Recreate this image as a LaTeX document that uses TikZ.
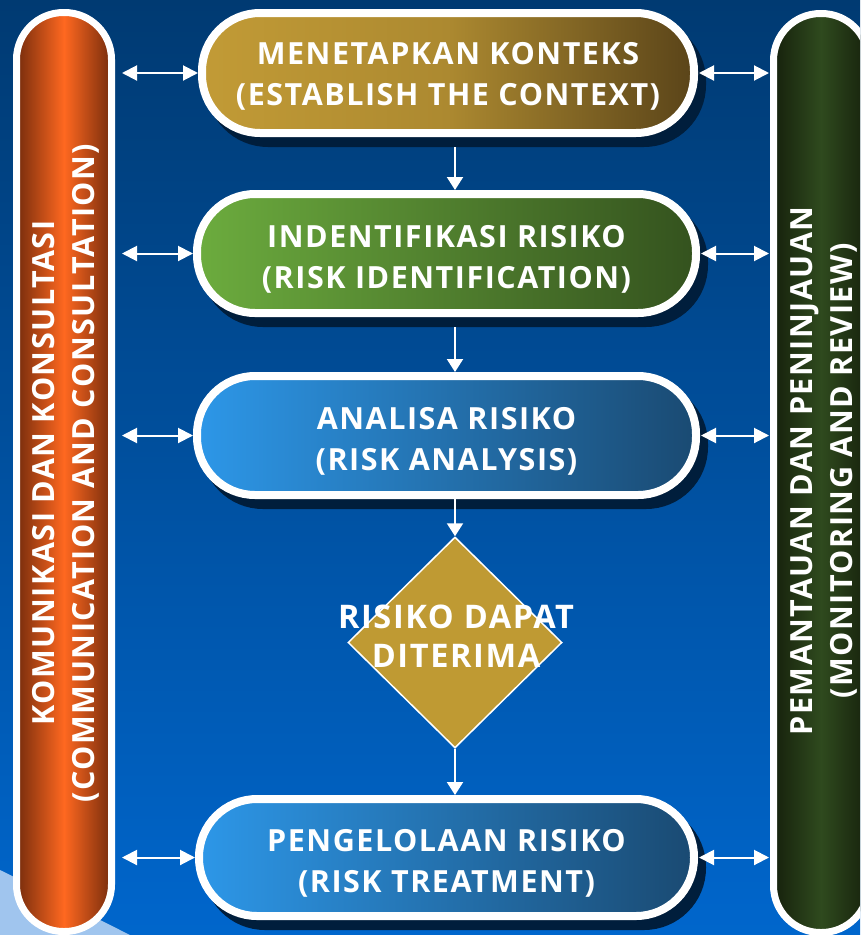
\documentclass[tikz,border=0pt]{standalone}
\usepackage{fontspec}
\setmainfont{Open Sans}
\newfontfamily\lblfont{Open Sans}[LetterSpace=5]
\newcommand\toppad{\rule{0pt}{33pt}}
\usetikzlibrary{arrows.meta,shapes.geometric,shadows}
\definecolor{bgtop}{RGB}{0,58,114}
\definecolor{bgbot}{RGB}{0,102,204}
\definecolor{swooshc}{RGB}{160,197,238}
\definecolor{shadowc}{RGB}{0,30,60}
\definecolor{goldL}{RGB}{194,155,54}
\definecolor{goldM}{RGB}{172,137,48}
\definecolor{goldR}{RGB}{90,68,25}
\definecolor{grnL}{RGB}{108,172,62}
\definecolor{grnR}{RGB}{52,82,30}
\definecolor{bluL}{RGB}{45,151,232}
\definecolor{bluR}{RGB}{26,74,114}
\definecolor{orgE}{RGB}{118,44,12}
\definecolor{orgM}{RGB}{255,104,32}
\definecolor{dgE}{RGB}{22,33,12}
\definecolor{dgM}{RGB}{47,74,30}
\definecolor{diac}{RGB}{191,154,51}
\tikzset{
  stagebox/.style={rectangle, rounded corners=58pt, draw=white, line width=8pt,
    text=white, align=center, inner sep=0pt,
    font=\lblfont\bfseries\fontsize{30.5}{41}\selectfont,
    drop shadow={shadow xshift=8pt, shadow yshift=-10pt, fill=shadowc, draw=shadowc, opacity=1}},
  sidepill/.style={rectangle, rounded corners=47pt, draw=white, line width=7pt,
    minimum width=95pt, inner sep=0pt},
  sidetext/.style={text=white, align=center, rotate=90,
    font=\lblfont\bfseries\fontsize{30.5}{40}\selectfont},
  dbl/.style={white, line width=2pt, {Triangle[length=15pt,width=15pt]}-{Triangle[length=15pt,width=15pt]}},
  down/.style={white, line width=2pt, -{Triangle[length=13pt,width=16pt]}}
}
\begin{document}
\begin{tikzpicture}[x=1pt,y=-1pt]
\clip (0,0) rectangle (860,935);
\useasboundingbox (0,0) rectangle (860,935);
\shade[top color=bgtop, bottom color=bgbot] (0,0) rectangle (860,935);
\fill[swooshc] (0,870) .. controls (45,892) and (90,915) .. (130,935) -- (0,935) -- cycle;

% side pills
\node[sidepill, minimum height=919pt, left color=orgE, right color=orgE, middle color=orgM] (kom) at (64,472) {};
\node[sidetext] (komtxt) at (66,473) {KOMUNIKASI DAN KONSULTASI\\(COMMUNICATION AND CONSULTATION)};
\node[sidepill, minimum height=919pt, left color=dgE, right color=dgE, middle color=dgM] (mon) at (821,473) {};
\node[sidetext] (montxt) at (824,471) {PEMANTAUAN DAN PENINJAUAN\\(MONITORING AND REVIEW)};

% stages
\node[stagebox, minimum width=492pt, minimum height=120pt, left color=goldL, right color=goldR, middle color=goldM] (b1) at (448,73)
  {\rule{0pt}{29pt}MENETAPKAN KONTEKS\\(ESTABLISH THE CONTEXT)};
\node[stagebox, minimum width=499pt, minimum height=119pt, left color=grnL, right color=grnR] (b2) at (446.5,253.5)
  {\toppad INDENTIFIKASI RISIKO\\(RISK IDENTIFICATION)};
\node[stagebox, minimum width=499pt, minimum height=119pt, left color=bluL, right color=bluR] (b3) at (446.5,435.5)
  {\toppad ANALISA RISIKO\\(RISK ANALYSIS)};
\node[diamond, fill=diac, draw=white, line width=1.5pt, minimum width=214pt, minimum height=211pt, inner sep=0pt] (dia) at (455,642.5) {};
\node[text=white, align=center, font=\lblfont\bfseries\fontsize{32.5}{39}\selectfont] (diatxt) at (456,636) {RISIKO DAPAT\\DITERIMA};
\node[stagebox, minimum width=495pt, minimum height=117pt, left color=bluL, right color=bluR] (b4) at (446.5,857.5)
  {\toppad PENGELOLAAN RISIKO\\(RISK TREATMENT)};

% side connectors
\foreach \b in {b1,b2,b3,b4}{
  \draw[dbl, shorten <=7pt] (kom.east |- \b.west) -- (\b.west);
  \draw[dbl, shorten <=1pt, shorten >=1pt] (\b.east) -- (mon.west |- \b.east);
}
% flow connectors
\draw[down, shorten <=10pt] (b1.south -| dia.north) -- (b2.north -| dia.north);
\draw[down, shorten <=10pt] (b2.south -| dia.north) -- (b3.north -| dia.north);
\draw[down] (b3.south -| dia.north) -- (dia.north);
\draw[down] (dia.south) -- (b4.north -| dia.south);
\end{tikzpicture}
\end{document}
